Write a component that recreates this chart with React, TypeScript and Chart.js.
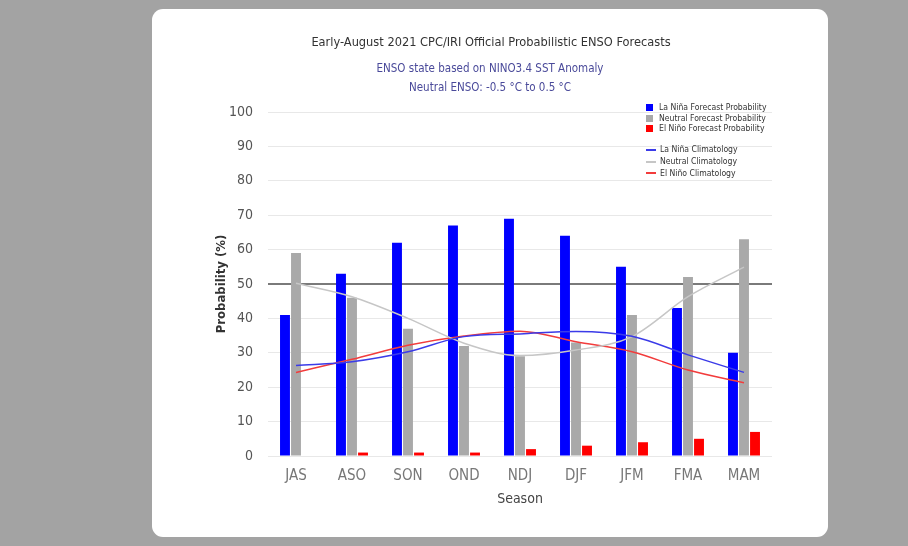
import React, { useEffect, useRef } from "react";
import { Chart, registerables } from "chart.js";

Chart.register(...registerables);

const seasons = ["JAS", "ASO", "SON", "OND", "NDJ", "DJF", "JFM", "FMA", "MAM"];
const laNinaProb = [41, 53, 62, 67, 69, 64, 55, 43, 30];
const neutralProb = [59, 46, 37, 32, 29, 33, 41, 52, 63];
const elNinoProb = [0, 1, 1, 1, 2, 3, 4, 5, 7];
const laNinaClim = [26.3, 27.4, 30.3, 34.7, 35.5, 36.2, 34.8, 29.4, 24.3];
const neutralClim = [50.2, 46.3, 40, 32.8, 29.2, 30.8, 34.7, 46.3, 54.9];
const elNinoClim = [24.3, 28.1, 32.2, 34.9, 36.3, 33.2, 30.3, 25, 21.3];
const yMin = 0;
const yMax = 100;
const yStep = 10;
const threshold = 50;

const titleText = "Early-August 2021 CPC/IRI Official Probabilistic ENSO Forecasts";
const subtitleLines = ["ENSO state based on NINO3.4 SST Anomaly", "Neutral ENSO: -0.5 °C to 0.5 °C"];
const yTitle = "Probability (%)";
const xTitle = "Season";

const FONT = "'Liberation Sans Narrow', 'DejaVu Sans Condensed', 'Liberation Sans', sans-serif";

const barSeries = [
  { label: "La Niña Forecast Probability", data: laNinaProb, color: "#0000ff" },
  { label: "Neutral Forecast Probability", data: neutralProb, color: "#a9a9a9" },
  { label: "El Niño Forecast Probability", data: elNinoProb, color: "#ff0000" },
];
const lineSeries = [
  { label: "La Niña Climatology", data: laNinaClim, color: "#3b3be8" },
  { label: "Neutral Climatology", data: neutralClim, color: "#c6c6c6" },
  { label: "El Niño Climatology", data: elNinoClim, color: "#f23c3c" },
];

const thresholdPlugin = {
  id: "threshold",
  beforeDatasetsDraw(chart: any) {
    const { ctx, chartArea, scales } = chart;
    const y = scales.y.getPixelForValue(threshold);
    ctx.save();
    ctx.strokeStyle = "#7a7a7a";
    ctx.lineWidth = 2;
    ctx.beginPath();
    ctx.moveTo(chartArea.left, y);
    ctx.lineTo(chartArea.right, y);
    ctx.stroke();
    ctx.restore();
  },
};

export default function App() {
  const ref = useRef<HTMLCanvasElement | null>(null);

  useEffect(() => {
    document.body.style.margin = "0";
    const canvas = ref.current;
    if (!canvas) return;
    Chart.defaults.font.family = FONT;
    const chart = new Chart(canvas, {
      type: "bar",
      data: {
        labels: seasons,
        datasets: [
          ...lineSeries.map((s) => ({
            type: "line" as const,
            label: s.label,
            data: s.data,
            borderColor: s.color,
            backgroundColor: s.color,
            borderWidth: 1.5,
            pointRadius: 0,
            tension: 0.4,
            cubicInterpolationMode: "monotone" as const,
            order: 0,
          })),
          ...barSeries.map((s) => ({
            type: "bar" as const,
            label: s.label,
            data: s.data,
            backgroundColor: s.color,
            borderWidth: 0,
            categoryPercentage: 0.59,
            barPercentage: 0.9,
            order: 1,
          })),
        ],
      },
      options: {
        responsive: false,
        animation: false,
        layout: { padding: { left: 200, right: 136, top: 112, bottom: 34 } },
        plugins: {
          legend: { display: false },
          tooltip: { enabled: false },
          title: { display: false },
        },
        scales: {
          x: {
            grid: { display: false },
            border: { display: false },
            ticks: { color: "#777777", font: { size: 15 }, padding: 3 },
            title: {
              display: true,
              text: xTitle,
              color: "#444444",
              font: { size: 14 },
              padding: { top: 0, bottom: 4 },
            },
            afterFit(scale: any) {
              scale.height = 56;
            },
          },
          y: {
            min: yMin,
            max: yMax,
            ticks: { stepSize: yStep, color: "#555555", font: { size: 14 }, padding: 15 },
            grid: { color: "#e8e8e8", drawTicks: false, lineWidth: 1 },
            border: { display: false },
            title: {
              display: true,
              text: yTitle,
              color: "#333333",
              font: { size: 13, weight: "bold" },
              padding: { top: 14, bottom: 0 },
            },
            afterFit(scale: any) {
              scale.width = 68;
            },
          },
        },
      },
      plugins: [thresholdPlugin],
    } as any);
    return () => chart.destroy();
  }, []);

  const legendText: React.CSSProperties = {
    fontFamily: FONT,
    fontSize: 8.6,
    color: "#333",
    lineHeight: "11px",
    whiteSpace: "nowrap",
  };

  return (
    <div style={{ position: "fixed", left: 0, top: 0, width: 908, height: 546, background: "#a3a3a3", overflow: "hidden" }}>
      <div style={{ position: "absolute", left: 152, top: 9, width: 676, height: 528, background: "#ffffff", borderRadius: 11 }} />
      <canvas ref={ref} width={908} height={546} style={{ position: "absolute", left: 0, top: 0, width: 908, height: 546 }} />
      <div style={{ position: "absolute", left: 0, top: 34, width: 982, textAlign: "center", fontFamily: FONT, fontSize: 12.7, color: "#333" }}>
        {titleText}
      </div>
      {subtitleLines.map((t, i) => (
        <div key={i} style={{ position: "absolute", left: 0, top: 61 + i * 18.5, width: 980, textAlign: "center", fontFamily: FONT, fontSize: 11.5, color: "#4a4a9a" }}>
          {t}
        </div>
      ))}
      <div style={{ position: "absolute", left: 646, top: 102 }}>
        {barSeries.map((s) => (
          <div key={s.label} style={{ display: "flex", alignItems: "center", height: 10.7 }}>
            <span style={{ display: "inline-block", width: 7, height: 7, background: s.color, marginRight: 6 }} />
            <span style={legendText}>{s.label}</span>
          </div>
        ))}
        <div style={{ height: 10 }} />
        {lineSeries.map((s) => (
          <div key={s.label} style={{ display: "flex", alignItems: "center", height: 11.7 }}>
            <span style={{ display: "inline-block", width: 10, height: 0, borderTop: `2px solid ${s.color}`, marginRight: 4 }} />
            <span style={legendText}>{s.label}</span>
          </div>
        ))}
      </div>
    </div>
  );
}
